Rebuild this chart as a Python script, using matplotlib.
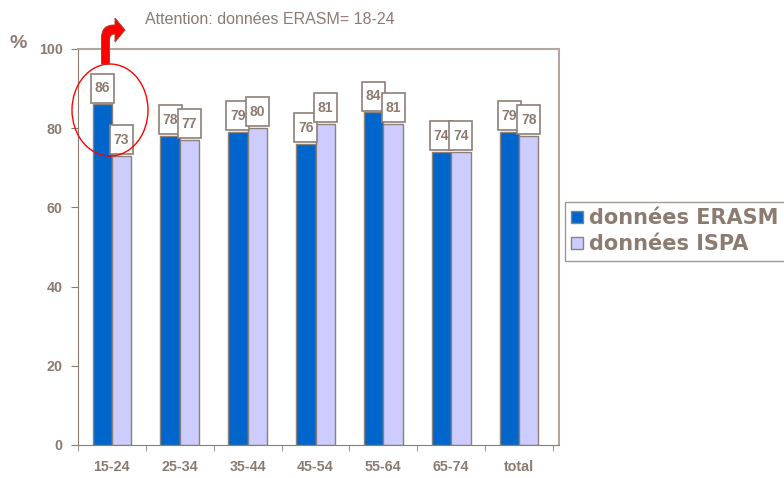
import matplotlib.pyplot as plt
import numpy as np
from matplotlib.patches import Ellipse, PathPatch, Rectangle
from matplotlib.path import Path
from matplotlib.transforms import Affine2D

plt.rcParams['font.family'] = ['Liberation Sans', 'DejaVu Sans']

categories = ['15-24', '25-34', '35-44', '45-54', '55-64', '65-74', 'total']
erasm = [86, 78, 79, 76, 84, 74, 79]
ispa = [73, 77, 80, 81, 81, 74, 78]

txt = '#8C7B70'
edge = '#8C8078'

fig = plt.figure(figsize=(7.84, 4.78), dpi=100)
ax = fig.add_axes([78 / 784, 1 - 445 / 478, 481 / 784, 396 / 478])
ax.set_ylim(0, 100)
ax.set_xlim(-0.5, 6.5 + 6 / 68)

x = np.arange(len(categories))
w = 0.285
b1 = ax.bar(x - w / 2, erasm, w, color='#0066CC', edgecolor=edge, linewidth=1, label='données ERASM')
b2 = ax.bar(x + w / 2, ispa, w, color='#CCCCFF', edgecolor=edge, linewidth=1, label='données ISPA')

# value boxes: size given in pixels, converted through the axes scale
pos = ax.get_position()
dx = (ax.get_xlim()[1] - ax.get_xlim()[0]) / (pos.width * fig.bbox.width)
dy = (ax.get_ylim()[1] - ax.get_ylim()[0]) / (pos.height * fig.bbox.height)
bw, bh, gap = 23 * dx, 29 * dy, 1.8 * dy
z = 5
for bars, vals in ((b1, erasm), (b2, ispa)):
    for r, v in zip(bars, vals):
        cx = r.get_x() + r.get_width() / 2
        ax.add_patch(Rectangle((cx - bw / 2, v + gap), bw, bh, fc='white', ec=edge, lw=1.2,
                               zorder=z, clip_on=False))
        ax.text(cx, v + gap + bh / 2, str(v), ha='center', va='center', fontsize=10,
                fontweight='bold', color=txt, zorder=z + 0.5, clip_on=False)
        z += 1

ax.set_yticks([0, 20, 40, 60, 80, 100])
ax.set_xticks(x)
ax.set_xticklabels(categories)
ax.set_xticks(np.arange(-0.5, 7, 1), minor=True)
ax.tick_params(axis='x', which='major', length=0, pad=11)
ax.tick_params(axis='x', which='minor', length=4, color=txt, direction='out')
ax.tick_params(axis='y', length=5, color=txt, pad=6)
for lab in ax.get_xticklabels() + ax.get_yticklabels():
    lab.set_fontweight('bold')
    lab.set_color(txt)
    lab.set_fontsize(10.3)
for s in ['left', 'bottom']:
    ax.spines[s].set_color(txt)
for s in ['top', 'right']:
    ax.spines[s].set_color('#B0A8A0')
    ax.spines[s].set_linewidth(1.5)

fig.text(9 / 784, 1 - 43 / 478, '%', fontsize=14, fontweight='bold', color=txt, va='center')
fig.text(145 / 784, 1 - 19 / 478, 'Attention: données ERASM= 18-24', fontsize=11.5, color=txt, va='center')

leg = fig.legend(loc='upper left', bbox_to_anchor=(565 / 784, 1 - 202 / 478), frameon=True,
                 fancybox=False, prop=dict(family='DejaVu Sans', size=15, weight='bold'),
                 handlelength=0.55, handleheight=0.55, handletextpad=0.3, borderpad=0.3,
                 labelspacing=0.3, borderaxespad=0)
leg.get_frame().set_edgecolor(edge)
for t in leg.get_texts():
    t.set_color(txt)

ell = Ellipse((110 / 784, 1 - 110 / 478), 76 / 784, 92 / 478, transform=fig.transFigure,
              fill=False, ec='red', lw=1, zorder=50)
fig.add_artist(ell)

# red turn arrow (pixel coordinates, y downwards)
px = Affine2D().scale(1 / 784, -1 / 478).translate(0, 1) + fig.transFigure
verts = [(101.5, 64), (101.5, 38), (101.5, 25), (114, 25), (115, 25), (115, 18),
         (125, 30), (115, 42), (115, 34), (109.5, 34), (109.5, 40), (109.5, 64), (101.5, 64)]
codes = [Path.MOVETO, Path.LINETO, Path.CURVE3, Path.CURVE3, Path.LINETO, Path.LINETO,
         Path.LINETO, Path.LINETO, Path.LINETO, Path.CURVE3, Path.CURVE3, Path.LINETO,
         Path.CLOSEPOLY]
arrow = PathPatch(Path(verts, codes), transform=px, fc='#FF0000', ec='#9A4A3A', lw=0.7, zorder=60)
fig.add_artist(arrow)

fig.savefig('out.png', dpi=100)
